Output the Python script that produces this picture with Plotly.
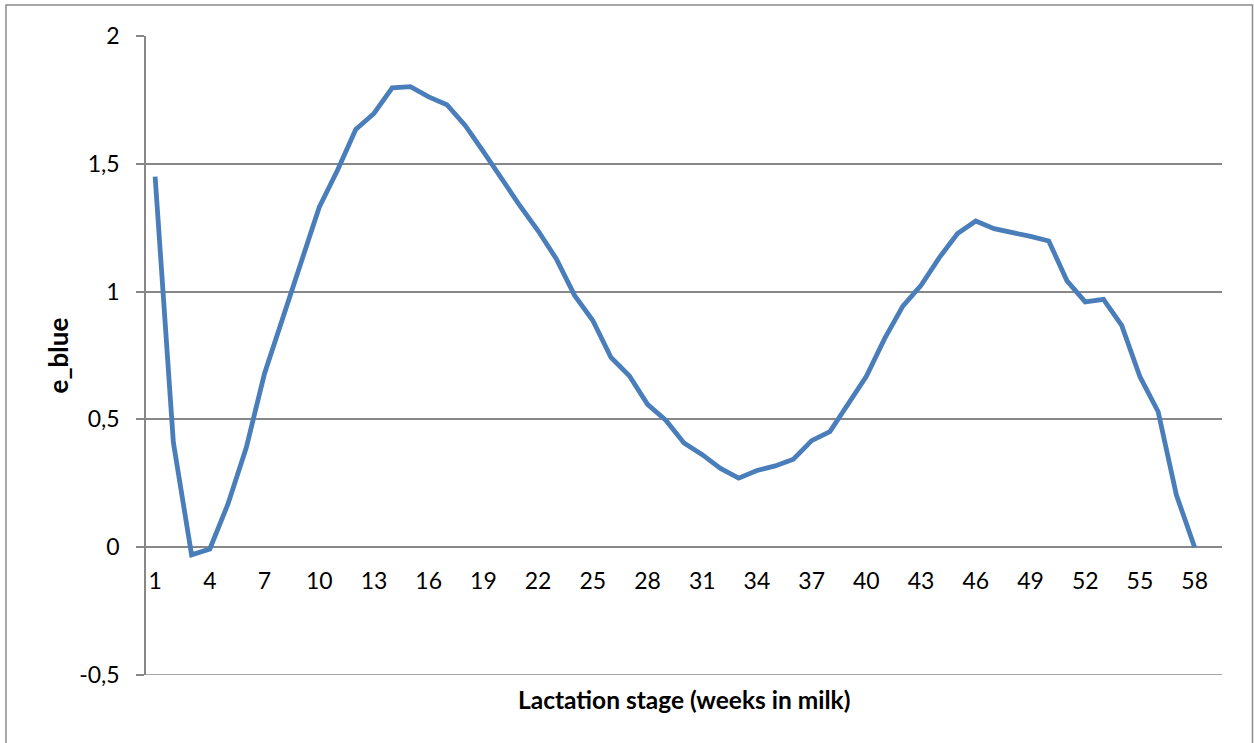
import plotly.graph_objects as go

weeks = list(range(1, 59))
e_blue = [1.45, 0.41, -0.03, -0.007, 0.17, 0.39, 0.68, 0.90, 1.11, 1.33,
          1.475, 1.634, 1.697, 1.797, 1.802, 1.762, 1.731, 1.65, 1.548, 1.44,
          1.336, 1.238, 1.128, 0.985, 0.887, 0.742, 0.671, 0.559, 0.497, 0.408,
          0.362, 0.308, 0.27, 0.30, 0.318, 0.344, 0.417, 0.452, 0.563, 0.669,
          0.816, 0.943, 1.025, 1.133, 1.227, 1.276, 1.246, 1.233, 1.216, 1.198,
          1.042, 0.96, 0.97, 0.868, 0.667, 0.53, 0.204, 0.0]

x_tickvals = list(range(1, 59, 3))
x_ticktext = [str(v) for v in x_tickvals]
y_tickvals = [-0.5, 0, 0.5, 1, 1.5, 2]
y_ticktext = ["-0,5", "0", "0,5", "1", "1,5", "2"]

x_title = "Lactation stage (weeks in milk)"
y_title = "e_blue"

FONT = "Lato, 'Open Sans', sans-serif"
GRID = "#878787"

fig = go.Figure()
fig.add_trace(go.Scatter(
    x=weeks, y=e_blue, mode="lines",
    line=dict(color="#4A7EBB", width=4.8),
    showlegend=False, hoverinfo="skip",
))

fig.update_layout(
    width=1254, height=743, autosize=False,
    margin=dict(l=146, r=32, t=36, b=68),
    paper_bgcolor="white", plot_bgcolor="white",
    font=dict(family=FONT, color="black", size=23),
    showlegend=False,
    xaxis=dict(
        range=[0.5, 59.5], tickmode="array", tickvals=x_tickvals, ticktext=x_ticktext,
        showgrid=False, zeroline=False, showline=False, ticks="",
        anchor="free", position=0.2, ticklabelstandoff=18,
        tickfont=dict(size=23, family=FONT),
    ),
    yaxis=dict(
        range=[-0.5, 2], tickmode="array", tickvals=y_tickvals, ticktext=y_ticktext,
        showgrid=True, gridcolor=GRID, gridwidth=1.5, zeroline=False,
        showline=True, linecolor=GRID, linewidth=1.5,
        ticks="outside", ticklen=8, tickcolor=GRID, tickwidth=1.5,
        ticklabelstandoff=12,
        tickfont=dict(size=23, family=FONT),
    ),
    annotations=[
        dict(text="<b>" + x_title + "</b>", xref="paper", yref="paper",
             x=0.5, y=-(699 - 675) / 639, xanchor="center", yanchor="middle",
             showarrow=False, font=dict(size=24.5, family=FONT)),
        dict(text="<b>" + y_title + "</b>", xref="paper", yref="paper",
             x=(57 - 146) / 1076, y=0.5, xanchor="center", yanchor="middle",
             textangle=-90, showarrow=False, font=dict(size=26, family=FONT)),
    ],
    shapes=[
        dict(type="rect", xref="paper", yref="paper",
             x0=(6 - 146) / 1076, x1=(1252.5 - 146) / 1076,
             y0=(675 - 760) / 639, y1=(675 - 5) / 639,
             line=dict(color="#8a8a8a", width=1.5), layer="below"),
        dict(type="line", xref="paper", yref="y",
             x0=0, x1=1, y0=y_tickvals[0], y1=y_tickvals[0],
             line=dict(color=GRID, width=1.5), layer="below"),
    ],
)

fig.write_html("out.html", config={"displayModeBar": False},
               post_script="document.body.style.margin='0px';")
